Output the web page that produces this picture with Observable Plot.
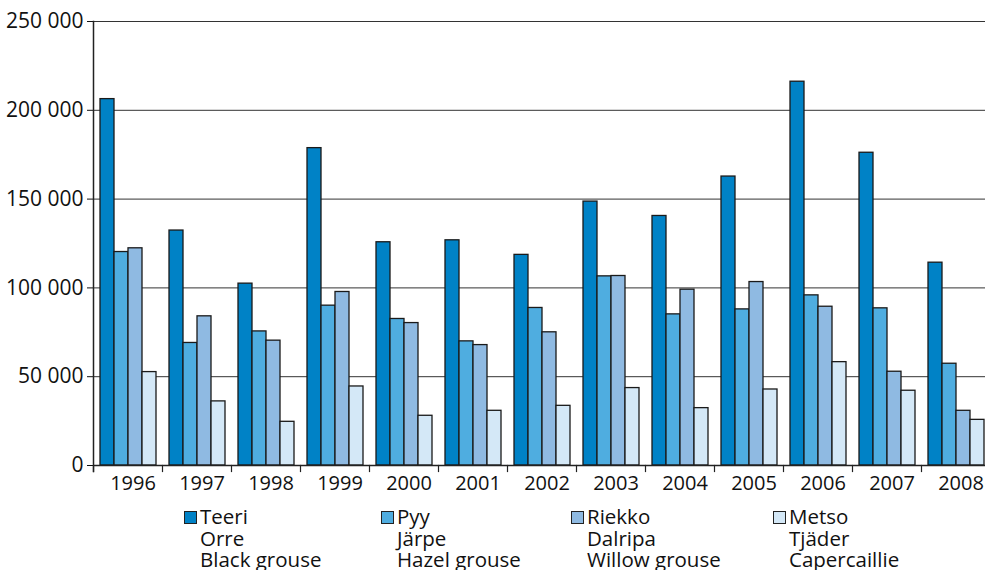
<!DOCTYPE html>
<html><head><meta charset="utf-8">
<script src="https://cdn.jsdelivr.net/npm/d3@7"></script>
<script src="https://cdn.jsdelivr.net/npm/@observablehq/plot@0.6"></script>
<style>
body{margin:0;background:#fff;font-family:"Open Sans",sans-serif;}
#legend{display:flex;margin-left:184px;margin-top:6px;font-size:20.5px;line-height:21.5px;color:#111}
.item{display:flex;align-items:flex-start}
.sw{width:11px;height:11px;border:1px solid #222;margin-top:5px;margin-right:3px;flex:none}
</style></head><body><div id="chart"></div><div id="legend"></div>
<script>
const years = ["1996","1997","1998","1999","2000","2001","2002","2003","2004","2005","2006","2007","2008"];
const species = ["Teeri","Pyy","Riekko","Metso"];
const swedish = ["Orre","Järpe","Dalripa","Tjäder"];
const english = ["Black grouse","Hazel grouse","Willow grouse","Capercaillie"];
const colors = ["#0082c6","#4fade0","#8fbae2","#d4e8f7"];
const teeri  = [206300,132300,102400,178700,125700,126800,118600,148600,140500,162700,216100,176100,114200];
const pyy    = [120200, 69000, 75500, 90000, 82500, 69900, 88700,106500, 85100, 87900, 95800, 88500, 57300];
const riekko = [122300, 84000, 70300, 97700, 80200, 67800, 75000,106700, 99000,103300, 89400, 52800, 30800];
const metso  = [ 52600, 36100, 24600, 44500, 28000, 30800, 33600, 43600, 32300, 42800, 58200, 42100, 25700];
const yTicks = [0,50000,100000,150000,200000,250000];
const legendWidths = [197,190,202,200];

const series = [teeri, pyy, riekko, metso];
const data = years.flatMap((y, i) => species.map((s, j) => ({year: y, species: s, value: series[j][i]})));
const fmt = d3.formatLocale({thousands:"\u00a0", grouping:[3], decimal:","}).format(",");

const chart = Plot.plot({
  width: 985, height: 500,
  marginLeft: 90, marginRight: -8, marginTop: 21, marginBottom: 35,
  style: {fontFamily: "'Open Sans', sans-serif", fontSize: "20px", color: "#111", background: "#fff", overflow: "visible"},
  fx: {domain: years, padding: 0, label: null, axis: null},
  x: {domain: species, paddingInner: 0, paddingOuter: 0.33, axis: null},
  y: {domain: [0, 250000], axis: null},
  color: {domain: species, range: colors},
  marks: [
    Plot.ruleY(yTicks, {stroke: "#333", strokeWidth: 1}),
    Plot.axisY({ticks: yTicks, tickFormat: fmt, tickSize: 6, tickPadding: 4, label: null, fontSize: 21}),
    Plot.axisFx({anchor: "bottom", tickSize: 0, tickPadding: 10, dx: 5, label: null}),
    Plot.barY(data, {fx: "year", x: "species", y: "value", fill: "species", stroke: "#1a1a1a", strokeWidth: 1.3}),
    Plot.ruleY([0], {stroke: "#222", strokeWidth: 1.5}),
    Plot.frame({anchor: "left", insetTop: 444, insetBottom: -6, stroke: "#222", strokeWidth: 1.2}),
    Plot.frame({anchor: "left", fx: () => years[0], insetBottom: -6, stroke: "#222", strokeWidth: 1.5})
  ]
});
document.getElementById("chart").appendChild(chart);

const legend = document.getElementById("legend");
species.forEach((s, i) => {
  const item = document.createElement("div");
  item.className = "item";
  item.style.width = legendWidths[i] + "px";
  const sw = document.createElement("div");
  sw.className = "sw";
  sw.style.background = colors[i];
  const txt = document.createElement("div");
  txt.innerHTML = [s, swedish[i], english[i]].join("<br>");
  item.appendChild(sw); item.appendChild(txt);
  legend.appendChild(item);
});
</script></body></html>
